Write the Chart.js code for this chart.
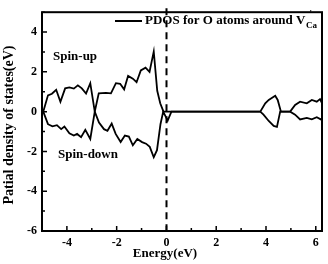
<!DOCTYPE html>
<html>
<head>
<meta charset="utf-8">
<script src="https://cdn.jsdelivr.net/npm/chart.js@4/dist/chart.umd.min.js"></script>
<style>
	html, body { margin: 0; padding: 0; background: #fff; }
	#wrap { width: 328px; height: 264px; }
</style>
</head>
<body>
<div id="wrap"><canvas id="pdos" width="328" height="264"></canvas></div>
<script>
// spin-up channel (energy in eV, DOS)
const upEnergy = [-4.95, -4.76, -4.60, -4.43, -4.26, -4.07, -3.90, -3.72, -3.56, -3.40, -3.23, -3.06, -2.88, -2.72, -2.43, -2.23, -2.03, -1.86, -1.70, -1.54, -1.35, -1.20, -1.03, -0.84, -0.68, -0.51, -0.37, -0.25, -0.12, 3.77, 3.97, 4.11, 4.37, 4.47, 4.60, 4.97, 5.17, 5.37, 5.64, 5.84, 6.04, 6.17, 6.30];
const upDos = [0, 0.82, 0.90, 1.10, 0.50, 1.17, 1.22, 1.16, 1.32, 1.17, 0.91, 1.43, 0, 0.92, 0.94, 0.92, 1.43, 1.40, 1.12, 1.80, 1.66, 1.48, 2.07, 2.21, 2.00, 3.02, 1.05, 0.42, 0, 0, 0.42, 0.59, 0.80, 0.59, 0, 0, 0.34, 0.50, 0.42, 0.59, 0.50, 0.63, 0.30];

// spin-down channel
const downEnergy = [-4.95, -4.76, -4.58, -4.40, -4.23, -4.10, -3.90, -3.72, -3.59, -3.43, -3.26, -3.06, -2.88, -2.71, -2.51, -2.37, -2.20, -2.04, -1.84, -1.67, -1.51, -1.35, -1.17, -0.98, -0.82, -0.67, -0.51, -0.38, -0.24, -0.13, 0.05, 0.20, 3.77, 3.90, 4.11, 4.31, 4.44, 4.57, 4.97, 5.17, 5.37, 5.64, 5.84, 6.04, 6.20, 6.30];
const downDos = [0, -0.63, -0.74, -0.68, -0.88, -0.75, -1.09, -1.20, -1.12, -1.28, -0.91, -1.37, 0, -0.55, -0.88, -0.96, -0.60, -1.12, -1.53, -1.20, -1.25, -1.69, -1.37, -1.53, -1.61, -1.77, -2.29, -1.94, -0.63, 0, -0.45, 0, 0, -0.15, -0.47, -0.72, -0.77, 0, 0, -0.15, -0.39, -0.31, -0.39, -0.28, -0.39, -0.30];

const xTicks = [-5, -4, -3, -2, -1, 0, 1, 2, 3, 4, 5, 6];
const yTicks = [-6, -5, -4, -3, -2, -1, 0, 1, 2, 3, 4, 5];
const fermiLevel = 0;

const serif = "'Liberation Serif', 'Times New Roman', serif";
const toPoints = (xs, ys) => xs.map((x, i) => ({ x, y: ys[i] }));

const decorations = {
	id: "decorations",
	afterDatasetsDraw(chart) {
		const { ctx, chartArea: a, scales } = chart;
		const xs = scales.x, ys = scales.y;
		ctx.save();
		ctx.strokeStyle = "#000";
		ctx.fillStyle = "#000";

		// fermi level dashed line
		const fx = Math.round(xs.getPixelForValue(fermiLevel)) + 0.5;
		ctx.lineWidth = 2;
		ctx.setLineDash([7, 5]);
		ctx.beginPath();
		ctx.moveTo(fx, a.top - 4);
		ctx.lineTo(fx, a.bottom);
		ctx.stroke();
		ctx.setLineDash([]);

		// frame
		ctx.lineWidth = 2;
		ctx.strokeRect(a.left, a.top, a.right - a.left, a.bottom - a.top);

		// inward ticks
		ctx.lineWidth = 1.5;
		ctx.beginPath();
		xTicks.forEach(v => {
			const px = xs.getPixelForValue(v);
			const len = v % 2 === 0 ? 5 : 3;
			ctx.moveTo(px, a.bottom);
			ctx.lineTo(px, a.bottom - len);
		});
		yTicks.forEach(v => {
			const py = ys.getPixelForValue(v);
			const len = v % 2 === 0 ? 5 : 3;
			ctx.moveTo(a.left, py);
			ctx.lineTo(a.left + len, py);
		});
		ctx.stroke();

		// legend
		ctx.lineWidth = 2;
		ctx.beginPath();
		ctx.moveTo(115, 21);
		ctx.lineTo(142, 21);
		ctx.stroke();
		ctx.textBaseline = "middle";
		ctx.textAlign = "left";
		ctx.font = `bold 13px ${serif}`;
		const leg = "PDOS for O atoms around V";
		ctx.fillText(leg, 145, 21);
		const lx = 145 + ctx.measureText(leg).width;
		ctx.font = `bold 9px ${serif}`;
		ctx.fillText("Ca", lx + 0.5, 26);
		ctx.fillText("'", lx + 4, 14);

		// channel labels
		ctx.font = `bold 13px ${serif}`;
		ctx.fillText("Spin-up", 53, 57);
		ctx.fillText("Spin-down", 58, 155);

		// axis titles
		ctx.textAlign = "center";
		ctx.fillText("Energy(eV)", 165, 254);
		ctx.translate(9.5, 125);
		ctx.rotate(-Math.PI / 2);
		ctx.font = `bold 14px ${serif}`;
		ctx.fillText("Patial density of states(eV)", 0, 0);
		ctx.restore();
	},
};

const lineStyle = {
	borderColor: "#000",
	borderWidth: 1.8,
	pointRadius: 0,
	showLine: true,
	fill: false,
	tension: 0,
};

new Chart(document.getElementById("pdos"), {
	type: "scatter",
	plugins: [decorations],
	data: {
		datasets: [
			{ label: "Spin-up", data: toPoints(upEnergy, upDos), ...lineStyle },
			{ label: "Spin-down", data: toPoints(downEnergy, downDos), ...lineStyle },
		],
	},
	options: {
		responsive: false,
		animation: false,
		devicePixelRatio: 1,
		layout: { padding: { top: 3.5, right: 6, left: 0, bottom: 0 } },
		plugins: {
			legend: { display: false },
			tooltip: { enabled: false },
		},
		scales: {
			x: {
				type: "linear",
				min: -5,
				max: 6.25,
				grid: { display: false, drawTicks: false },
				border: { display: false },
				afterBuildTicks: scale => {
					scale.ticks = xTicks.map(value => ({ value }));
				},
				afterFit: scale => {
					scale.height = 33;
				},
				ticks: {
					padding: 5,
					color: "#000",
					font: { family: serif, size: 12, weight: "bold" },
					maxRotation: 0,
					autoSkip: false,
					callback: v => (v % 2 === 0 ? String(v) : ""),
				},
			},
			y: {
				type: "linear",
				min: -6,
				max: 5,
				grid: { display: false, drawTicks: false },
				border: { display: false },
				afterBuildTicks: scale => {
					scale.ticks = yTicks.map(value => ({ value }));
				},
				afterFit: scale => {
					scale.width = 42;
				},
				ticks: {
					padding: 5,
					color: "#000",
					font: { family: serif, size: 12, weight: "bold" },
					autoSkip: false,
					callback: v => (v % 2 === 0 ? String(v) : ""),
				},
			},
		},
	},
});
</script>
</body>
</html>
